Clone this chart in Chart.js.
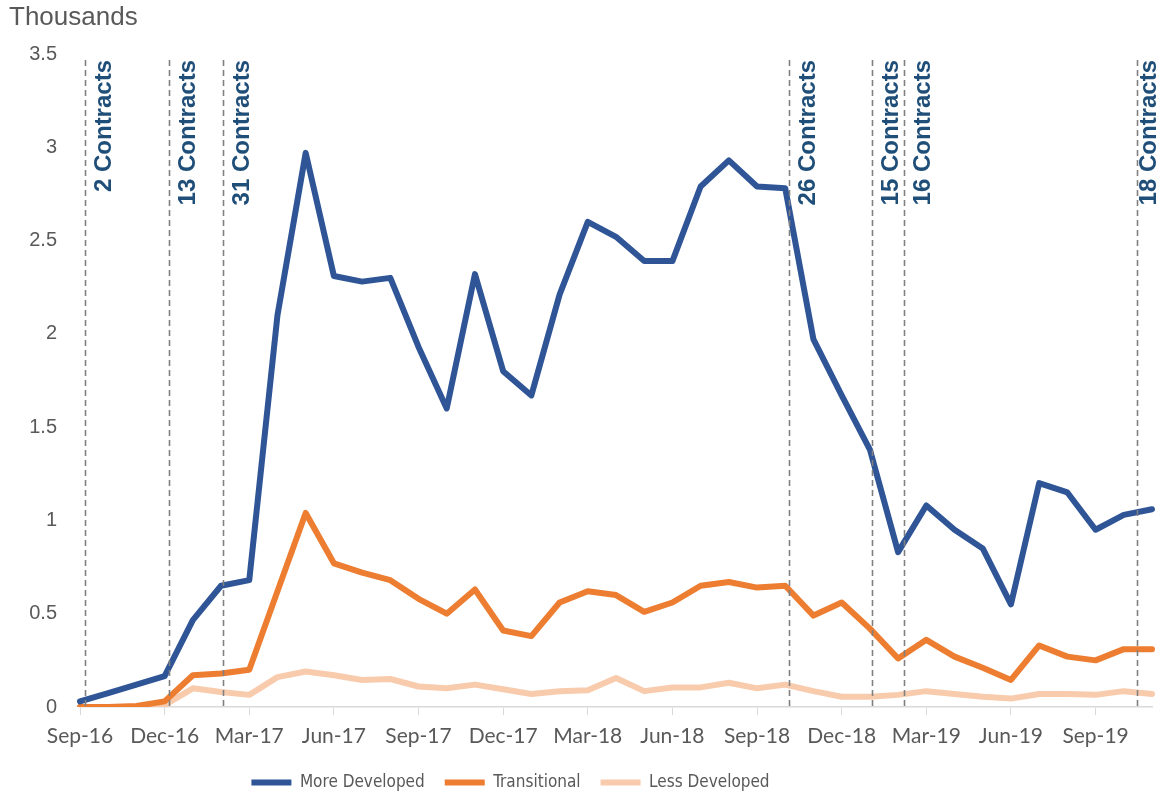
<!DOCTYPE html>
<html>
<head>
<meta charset="utf-8">
<script src="https://cdn.jsdelivr.net/npm/chart.js@4"></script>
<style>
  html, body { margin: 0; padding: 0; background: #ffffff; }
  #wrap { width: 1158px; height: 793px; position: relative; }
</style>
</head>
<body>
<div id="wrap"><canvas id="c"></canvas></div>
<script>
const months = ['Sep-16','Oct-16','Nov-16','Dec-16','Jan-17','Feb-17','Mar-17','Apr-17','May-17','Jun-17','Jul-17','Aug-17','Sep-17','Oct-17','Nov-17','Dec-17','Jan-18','Feb-18','Mar-18','Apr-18','May-18','Jun-18','Jul-18','Aug-18','Sep-18','Oct-18','Nov-18','Dec-18','Jan-19','Feb-19','Mar-19','Apr-19','May-19','Jun-19','Jul-19','Aug-19','Sep-19','Oct-19','Nov-19'];

const moreDeveloped = [0.03,0.075,0.12,0.165,0.466,0.65,0.68,2.10,2.97,2.31,2.28,2.30,1.93,1.60,2.32,1.80,1.67,2.21,2.60,2.52,2.39,2.39,2.79,2.93,2.79,2.78,1.97,1.67,1.38,0.83,1.08,0.95,0.85,0.55,1.20,1.15,0.95,1.03,1.06];
const transitional = [0,0,0.005,0.03,0.17,0.18,0.20,0.62,1.04,0.77,0.72,0.68,0.58,0.50,0.63,0.41,0.38,0.56,0.62,0.60,0.51,0.56,0.65,0.67,0.64,0.65,0.49,0.56,0.42,0.26,0.36,0.27,0.21,0.145,0.33,0.27,0.25,0.31,0.31];
const lessDeveloped = [0,0,0,0.01,0.10,0.08,0.065,0.16,0.19,0.17,0.145,0.15,0.11,0.10,0.12,0.095,0.07,0.085,0.09,0.155,0.085,0.105,0.105,0.13,0.10,0.12,0.085,0.055,0.055,0.065,0.085,0.07,0.055,0.045,0.07,0.07,0.065,0.085,0.07];

const contractLabels = ['2 Contracts','13 Contracts','31 Contracts','26 Contracts','15 Contracts','16 Contracts','18 Contracts'];
const contractMonths = [0.18,3.15,5.08,25.12,28.08,29.2,37.47];

const seriesNames = ['More Developed','Transitional','Less Developed'];
const yTicks = [0,0.5,1,1.5,2,2.5,3,3.5];

function hasFont(name) {
  const c = document.createElement('canvas').getContext('2d');
  const s = 'More Developed Wij 0123';
  c.font = '40px monospace';
  const a = c.measureText(s).width;
  c.font = '40px "' + name + '", monospace';
  const b = c.measureText(s).width;
  return Math.abs(a - b) > 0.5;
}
const narrow = hasFont('Liberation Sans Narrow') ? 'Liberation Sans Narrow'
             : (hasFont('DejaVu Sans Condensed') ? 'DejaVu Sans Condensed' : null);
const legendFont = narrow === 'Liberation Sans Narrow'
  ? { family: '"Liberation Sans Narrow", sans-serif', size: 20 }
  : (narrow === 'DejaVu Sans Condensed'
      ? { family: '"DejaVu Sans Condensed", sans-serif', size: 17 }
      : { family: 'Lato, sans-serif', size: 16 });

const contractPlugin = {
  id: 'contracts',
  afterLayout(chart) {
    const lg = chart.legend;
    if (lg) { lg.left -= 70; lg.right -= 70; }
  },
  afterDatasetsDraw(chart) {
    const {ctx, chartArea, scales: {x}} = chart;
    ctx.save();
    contractMonths.forEach((m, i) => {
      const px = Math.round(x.getPixelForValue(m)) + 0.5;
      ctx.save();
      ctx.strokeStyle = '#808080';
      ctx.lineWidth = 1.6;
      ctx.setLineDash([6, 4]);
      ctx.beginPath();
      ctx.moveTo(px, chartArea.top + 6);
      ctx.lineTo(px, chartArea.bottom + 2);
      ctx.stroke();
      ctx.restore();
      ctx.save();
      ctx.translate(Math.min(px + 19, chart.width - 9), chartArea.top + 6);
      ctx.rotate(-Math.PI / 2);
      ctx.font = 'bold 24px "Liberation Sans", Arial, sans-serif';
      ctx.fillStyle = '#1F4E79';
      ctx.textAlign = 'right';
      ctx.textBaseline = 'middle';
      ctx.fillText(contractLabels[i], 0, 0);
      ctx.restore();
    });
    ctx.restore();
  }
};

const mkDs = (label, data, color) => ({
  label, data,
  borderColor: color, backgroundColor: color,
  borderWidth: 6, pointRadius: 0, pointHoverRadius: 0,
  tension: 0, borderJoinStyle: 'round', borderCapStyle: 'round', fill: false
});

new Chart(document.getElementById('c'), {
  type: 'line',
  data: {
    labels: months,
    datasets: [
      mkDs(seriesNames[0], moreDeveloped, '#2F5597'),
      mkDs(seriesNames[1], transitional, '#ED7D31'),
      mkDs(seriesNames[2], lessDeveloped, '#F8CBAD')
    ]
  },
  options: {
    responsive: true,
    maintainAspectRatio: false,
    animation: false,
    layout: { padding: { left: 9, right: 6, top: 0, bottom: 0 } },
    plugins: {
      title: {
        display: true, text: 'Thousands', align: 'start',
        color: '#595959',
        font: { family: '"Liberation Sans", Arial, sans-serif', size: 26, weight: 'normal' },
        padding: { top: 2, bottom: 20.8 }
      },
      legend: {
        position: 'bottom',
        maxHeight: 39,
        labels: {
          usePointStyle: true, pointStyle: 'line', pointStyleWidth: 40,
          color: '#595959', padding: 20,
          font: legendFont
        }
      },
      tooltip: { enabled: false }
    },
    scales: {
      x: {
        type: 'category',
        offset: false,
        afterBuildTicks: (scale) => { scale.ticks = scale.ticks.filter(t => t.value % 3 === 0); },
        afterFit: (scale) => { scale.height = 47; },
        grid: { display: true, drawOnChartArea: false, drawTicks: true, tickLength: 8, color: '#D9D9D9', lineWidth: 1 },
        border: { display: true, color: '#D9D9D9', width: 1.5 },
        ticks: {
          autoSkip: false, maxRotation: 0, minRotation: 0, padding: 9,
          color: '#595959',
          font: { family: 'Lato, "Open Sans", sans-serif', size: 21 }
        }
      },
      y: {
        min: 0, max: 3.5,
        afterBuildTicks: (scale) => { scale.ticks = yTicks.map(v => ({ value: v })); },
        afterFit: (scale) => { scale.width = 71; },
        grid: { display: false, drawTicks: false },
        border: { display: false },
        ticks: {
          padding: 23, color: '#595959',
          callback: (v) => String(v),
          font: { family: '"Liberation Sans", Arial, sans-serif', size: 20 }
        }
      }
    }
  },
  plugins: [contractPlugin]
});
</script>
</body>
</html>
